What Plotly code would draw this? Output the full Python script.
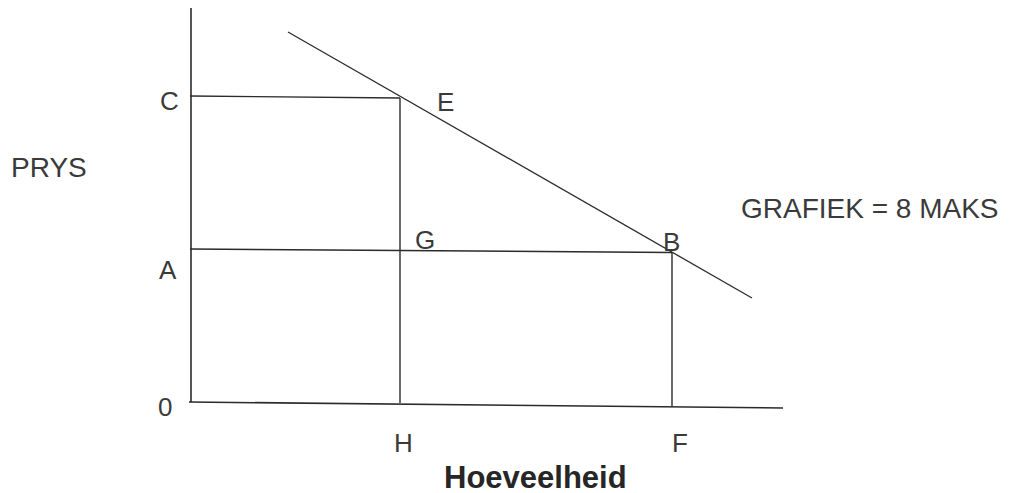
import plotly.graph_objects as go

# Diagram geometry in chart units (quantity, price); origin 0 at the axes corner
axis_q = [0.1, 0.1, None, -0.1, 59.3]
axis_p = [39.4, 0.0, None, 0.0, -0.6]

demand_q = [9.8, 56.2]
demand_p = [37.0, 10.4]

# guide lines: C-E, E-H, A-B, B-F
guide_q = [0.0, 21.0, None, 21.0, 21.0, None, 0.0, 48.2, None, 48.2, 48.2]
guide_p = [30.6, 30.4, None, 30.4, -0.1, None, 15.3, 14.95, None, 14.95, -0.45]

# point labels
label_text = ["C", "A", "0", "H", "F", "E", "G", "B"]
label_q = [-2.1, -2.2, -2.5, 21.3, 49.0, 25.5, 23.5, 48.1]
label_p = [30.1, 13.2, -0.5, -4.1, -4.1, 30.0, 16.2, 16.0]

y_title = "PRYS"
y_title_pos = (-14.1, 23.5)
x_title = "Hoeveelheid"
x_title_pos = (34.5, -7.55)
note = "GRAFIEK = 8 MAKS"
note_pos = (68.0, 19.4)

line_color = "#2b2b2b"
text_color = "#3a3a3a"
font_family = "Liberation Sans, Arial, sans-serif"

fig = go.Figure()
fig.add_trace(go.Scatter(x=axis_q, y=axis_p, mode="lines",
                         line=dict(color=line_color, width=1.6), hoverinfo="skip"))
fig.add_trace(go.Scatter(x=guide_q, y=guide_p, mode="lines",
                         line=dict(color=line_color, width=1.4), hoverinfo="skip"))
fig.add_trace(go.Scatter(x=demand_q, y=demand_p, mode="lines",
                         line=dict(color=line_color, width=1.3), hoverinfo="skip"))

annotations = []
for t, q, p in zip(label_text, label_q, label_p):
    annotations.append(dict(x=q, y=p, text=t, showarrow=False, xanchor="center", yanchor="middle",
                            font=dict(family=font_family, size=26, color=text_color)))
annotations.append(dict(x=y_title_pos[0], y=y_title_pos[1], text=y_title, showarrow=False,
                        xanchor="center", yanchor="middle",
                        font=dict(family=font_family, size=28, color=text_color)))
annotations.append(dict(x=note_pos[0], y=note_pos[1], text=note, showarrow=False,
                        xanchor="center", yanchor="middle",
                        font=dict(family=font_family, size=28, color=text_color)))
annotations.append(dict(x=x_title_pos[0], y=x_title_pos[1], text="<b>" + x_title + "</b>", showarrow=False,
                        xanchor="center", yanchor="middle",
                        font=dict(family=font_family, size=31, color="#262626")))

fig.update_layout(
    width=1009, height=493,
    margin=dict(l=0, r=0, t=0, b=0),
    paper_bgcolor="white", plot_bgcolor="white",
    showlegend=False,
    annotations=annotations,
    xaxis=dict(range=[-18.2, 82.7], visible=False, fixedrange=True),
    yaxis=dict(range=[-9.9, 39.4], visible=False, fixedrange=True),
)
fig.write_html("out.html")
